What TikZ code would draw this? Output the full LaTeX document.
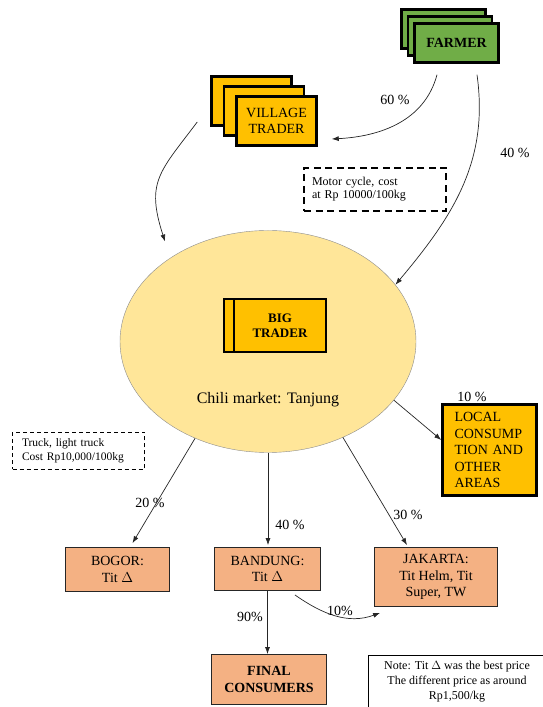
\documentclass[tikz,border=0pt]{standalone}
\usepackage{fontspec}
\setmainfont{Liberation Serif}
\usetikzlibrary{shapes.geometric,shadows}
\usetikzlibrary{arrows.meta}
\usetikzlibrary{positioning}
\definecolor{farmgreen}{HTML}{70AD47}
\definecolor{traderorange}{HTML}{FFC000}
\definecolor{marketyellow}{HTML}{FFE699}
\definecolor{citysalmon}{HTML}{F4B183}
\tikzset{
    farmer stack/.style = {draw, line width=2.5pt, fill=farmgreen, align=center,
                           minimum width=84pt, minimum height=39pt,
                           font=\fontsize{14}{16.5}\selectfont\bfseries,
                           double copy shadow={shadow xshift=-6.5pt, shadow yshift=7pt,
                                               fill=farmgreen, draw, line width=2.5pt}
    },
    village stack/.style = {draw, line width=2.5pt, fill=traderorange, align=center,
                            minimum width=80pt, minimum height=49pt,
                            double copy shadow={shadow xshift=-12.5pt, shadow yshift=10pt,
                                                fill=traderorange, draw, line width=2.5pt}
    },
    big stack/.style = {draw, line width=2pt, fill=traderorange, align=center,
                        minimum width=92pt, minimum height=53pt,
                        font=\fontsize{13}{15.5}\selectfont\bfseries,
                        copy shadow={shadow xshift=-10pt, shadow yshift=0pt,
                                     fill=traderorange, draw, line width=2pt}
    },
    market/.style = {draw=black!45, ellipse, fill=marketyellow, inner sep=0pt,
                     minimum width=296pt, minimum height=222pt
    },
    local box/.style = {draw, line width=2.5pt, fill=traderorange,
                        minimum width=94pt, minimum height=91pt,
                        text width=70pt, align=left
    },
    city/.style = {draw=black!85, line width=0.8pt, fill=citysalmon, align=center}, 
    cost note/.style = {draw, line width=1.6pt, dash pattern=on 7pt off 4.5pt,
                        font=\fontsize{12}{13}\selectfont, align=left
    },
    flow/.style = {draw=black!85, line width=0.7pt, -{Latex[length=7pt,width=5pt]}},
}

\begin{document}
\begin{tikzpicture}[x=1pt, y=1pt, font=\fontsize{14}{16.5}\selectfont]
    \clip (0,0) rectangle (543,707);
    \node (farmer) [farmer stack] at (456.5,664) {FARMER};
    \node (village) [village stack] at (276.5,586) {VILLAGE\\TRADER};
    \node (motor) [cost note, minimum width=142pt, minimum height=43pt, text width=126pt]
          at (375,517.5) {Motor cycle, cost\\at Rp 10000/100kg};
    \node (mkt) [market] at (268,365.5) {};
    \node (big) [big stack] at (280,381.5) {BIG\\TRADER};
    \node (chili) [font=\fontsize{16}{18}\selectfont] at (268,307) {Chili market: Tanjung};
    \node (local) [local box] at (489.5,257) {LOCAL\\CONSUMP\\TION AND\\OTHER\\AREAS};
    \node (truck) [cost note, line width=1pt, dash pattern=on 4pt off 3pt,
                   font=\fontsize{11.5}{14}\selectfont,
                   minimum width=132pt, minimum height=37pt, text width=113pt]
          at (78.5,256) {Truck, light truck\\Cost Rp10,000/100kg};
    \node (bogor) [city, minimum width=104pt, minimum height=44pt] at (117.5,137.5)
          {BOGOR:\\Tit $\Delta$};
    \node (bandung) [city, minimum width=106pt, minimum height=43pt] at (267.5,138)
          {BANDUNG:\\Tit $\Delta$};
    \node (jakarta) [city, minimum width=123pt, minimum height=59pt] at (436,130)
          {JAKARTA:\\Tit Helm, Tit\\Super, TW};
    \node (final) [city, minimum width=115pt, minimum height=50pt,
                   font=\fontsize{14}{16.5}\selectfont\bfseries] at (269,27.5)
          {FINAL\\CONSUMERS};
    \node (note) [draw, line width=0.8pt, minimum width=178pt, minimum height=54pt,
                  align=center, font=\fontsize{12}{15}\selectfont] at (457,25)
          {Note: Tit $\Delta$ was the best price\\The different price as around\\Rp1,500/kg};

    \draw[flow] ([xshift=-19.5pt,yshift=-11pt]farmer.south) to[out=-105,in=3]
                ([xshift=14pt,yshift=-18pt]village.east);
    \draw[flow] ([xshift=20.5pt,yshift=-11pt]farmer.south) to[out=-82,in=50] (mkt.24);
    \draw[flow] ([xshift=-38pt,yshift=-1pt]village.west) to[out=-127,in=108,looseness=1.3]
                ([xshift=-14pt,yshift=11pt]mkt.135);
    \draw[flow] (mkt.-25) -- ([yshift=10pt]local.west);
    \draw[flow] (mkt.-127) -- ([xshift=15pt,yshift=4pt]bogor.north);
    \draw[flow] (mkt.south) -- ([yshift=2pt]mkt.south |- bandung.north);
    \draw[flow] (mkt.-52) -- ([xshift=-29pt,yshift=2pt]jakarta.north);
    \draw[flow] (bandung.south) -- (bandung.south |- final.north);
    \draw[flow] ([xshift=-26pt,yshift=-4pt]bandung.south east) to[out=-35,in=200]
                ([xshift=6pt,yshift=-6pt]jakarta.south west);

    \node (p60) at (395,607) {60 \%};
    \node (p40a) at (515,554) {40 \%};
    \node (p10a) at (472,310) {10 \%};
    \node (p20) at (150,204) {20 \%};
    \node (p40b) at (290,182) {40 \%};
    \node (p30) at (408,192) {30 \%};
    \node (p90) at (250,90) {90\%};
    \node (p10b) at (340,96) {10\%};
\end{tikzpicture}
\end{document}
